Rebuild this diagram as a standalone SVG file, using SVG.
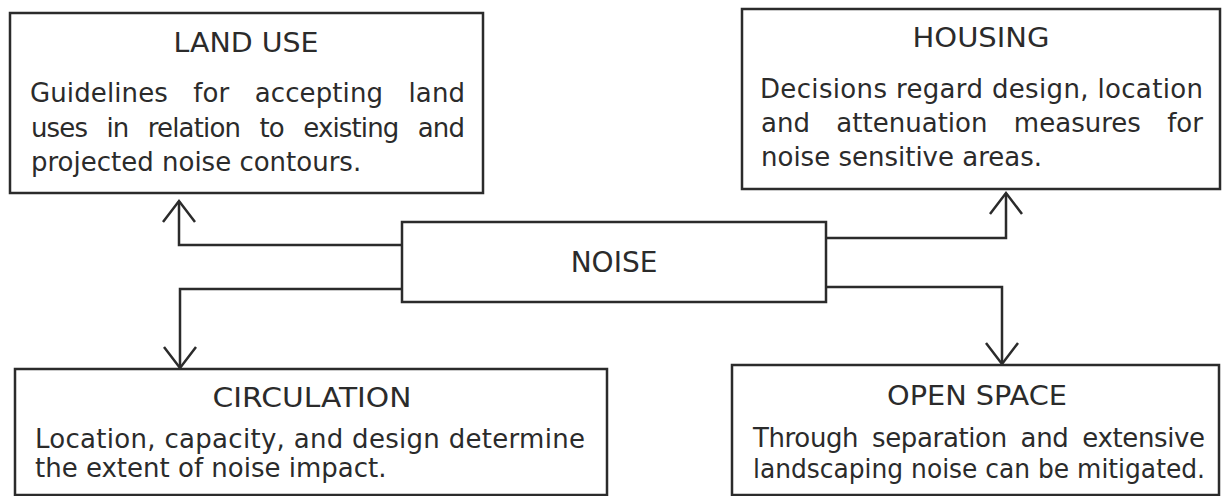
<svg xmlns="http://www.w3.org/2000/svg" width="1222" height="496" viewBox="0 0 1222 496">
<defs>
<style>
.box{fill:#fff;stroke:#2b2b2b;stroke-width:2.5}
.con{fill:none;stroke:#2b2b2b;stroke-width:2.5}
.t{font-family:"DejaVu Sans","Liberation Sans",sans-serif;fill:#2b2b2b}
.title{font-size:27px;text-anchor:middle}
.body{font-size:26px}
</style>
<marker id="arr" markerUnits="userSpaceOnUse" viewBox="-24 -19 28 38" markerWidth="28" markerHeight="38" refX="0" refY="0" orient="auto" overflow="visible">
<path d="M-21,-16 L0,0 L-21,16" fill="none" stroke="#2b2b2b" stroke-width="2.5"/>
</marker>
</defs>
<rect width="1222" height="496" fill="#fff"/>
<g id="connectors">
<path class="con" d="M402,245 H179 V201" marker-end="url(#arr)"/>
<path class="con" d="M402,289 H180 V368" marker-end="url(#arr)"/>
<path class="con" d="M826,238 H1006 V193" marker-end="url(#arr)"/>
<path class="con" d="M826,287 H1002 V364" marker-end="url(#arr)"/>
</g>
<g id="land-use">
<rect class="box" x="10" y="13" width="473" height="180"/>
<text class="t title" x="246" y="52" textLength="145" lengthAdjust="spacingAndGlyphs">LAND USE</text>
<text class="t body" x="30" y="102" word-spacing="17" textLength="435" lengthAdjust="spacing">Guidelines for accepting land</text>
<text class="t body" x="31" y="137" word-spacing="12" textLength="434" lengthAdjust="spacing">uses in relation to existing and</text>
<text class="t body" x="31" y="171">projected noise contours.</text>
</g>
<g id="housing">
<rect class="box" x="742" y="9" width="478" height="180"/>
<text class="t title" x="981" y="47" textLength="137" lengthAdjust="spacingAndGlyphs">HOUSING</text>
<text class="t body" x="760" y="98" textLength="443" lengthAdjust="spacing">Decisions regard design, location</text>
<text class="t body" x="761" y="132" word-spacing="18" textLength="442" lengthAdjust="spacing">and attenuation measures for</text>
<text class="t body" x="761" y="166">noise sensitive areas.</text>
</g>
<g id="noise">
<rect class="box" x="402" y="222" width="424" height="80"/>
<text class="t" x="614" y="272" font-size="28" text-anchor="middle">NOISE</text>
</g>
<g id="circulation">
<rect class="box" x="15" y="369" width="592" height="126"/>
<text class="t title" x="312" y="407" textLength="199" lengthAdjust="spacingAndGlyphs">CIRCULATION</text>
<text class="t body" x="35" y="448" textLength="550" lengthAdjust="spacing">Location, capacity, and design determine</text>
<text class="t body" x="35" y="477">the extent of noise impact.</text>
</g>
<g id="open-space">
<rect class="box" x="732" y="365" width="487" height="130"/>
<text class="t title" x="977" y="405" textLength="180" lengthAdjust="spacingAndGlyphs">OPEN SPACE</text>
<text class="t body" x="753" y="447" font-size="25" word-spacing="6" textLength="452" lengthAdjust="spacing">Through separation and extensive</text>
<text class="t body" x="753" y="478" font-size="25" textLength="452" lengthAdjust="spacingAndGlyphs">landscaping noise can be mitigated.</text>
</g>
</svg>
